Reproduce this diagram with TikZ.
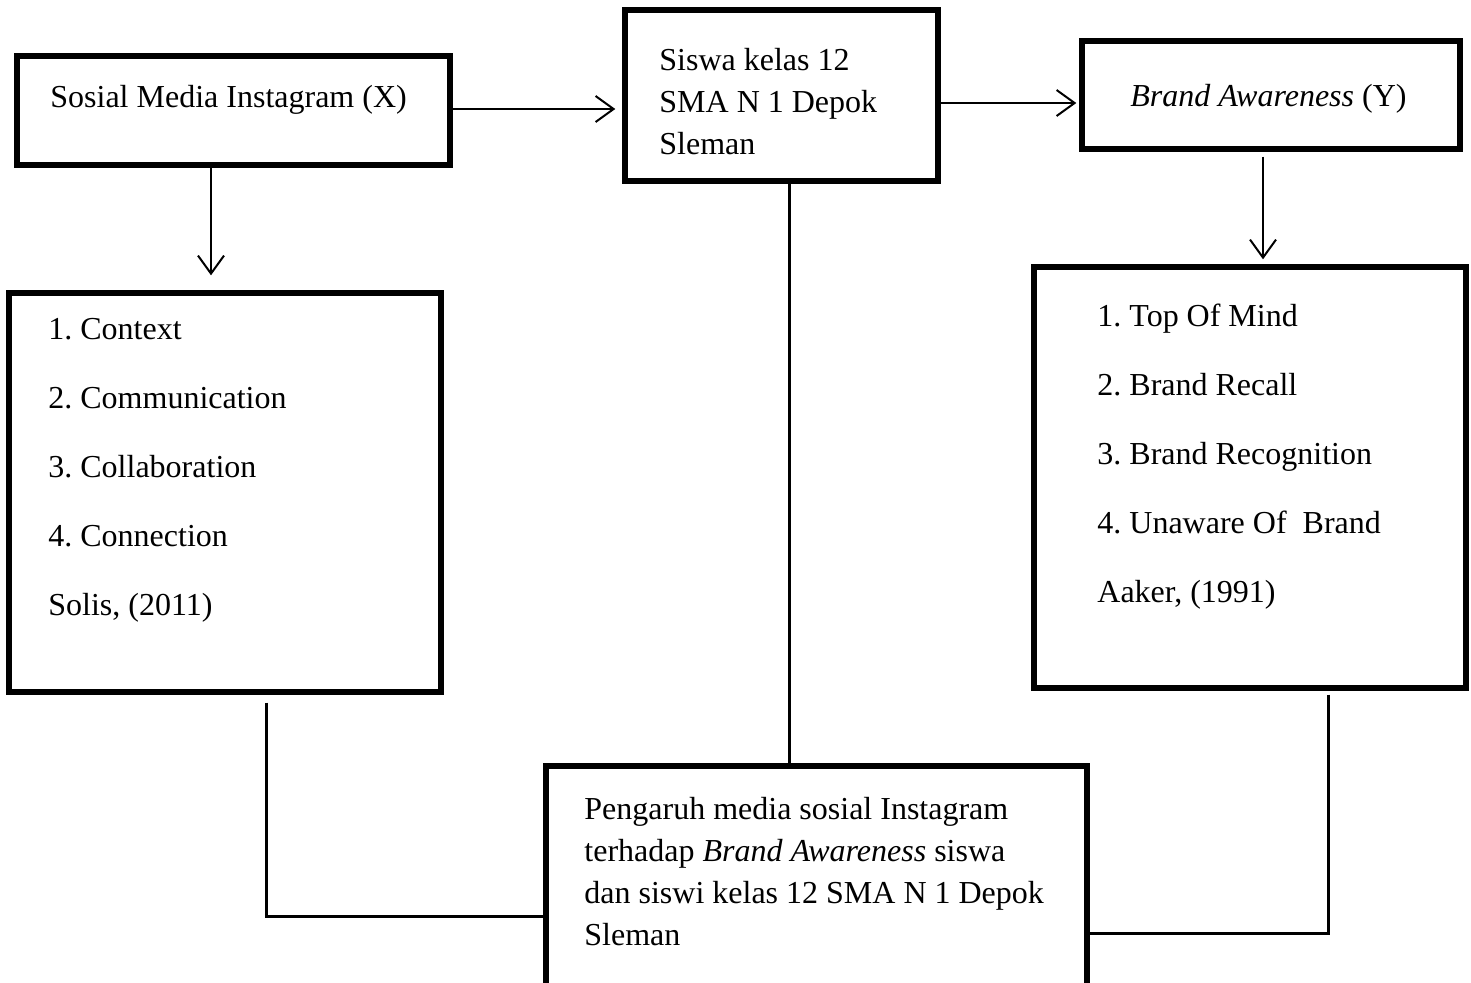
\documentclass[tikz,border=0pt]{standalone}
\usepackage{fontspec}
\setmainfont{Liberation Serif}
\usetikzlibrary{arrows.meta}
\frenchspacing
\begin{document}
\begin{tikzpicture}[x=0.5pt,y=-0.5pt,
  box/.style={draw, line width=2.7pt, rectangle, inner sep=0pt},
  txt/.style={anchor=base west, inner sep=0pt, font=\fontsize{16}{21}\selectfont},
  arr/.style={line width=1pt, -{Straight Barb[length=9pt,width=13pt,line width=1pt]}},
  link/.style={line width=1.5pt}]
\useasboundingbox (0,0) rectangle (1471,982);
\clip (0,0) rectangle (1471,982);
% boxes
\node[box, minimum width={433*0.5pt}, minimum height={109*0.5pt}] (A) at (233.5,110.5) {};
\node[box, minimum width={313*0.5pt}, minimum height={171*0.5pt}] (B) at (781.5,95.5) {};
\node[box, minimum width={378*0.5pt}, minimum height={108*0.5pt}] (C) at (1271,95) {};
\node[box, minimum width={432*0.5pt}, minimum height={399*0.5pt}] (D) at (225,492.5) {};
\node[box, minimum width={432*0.5pt}, minimum height={421*0.5pt}] (E) at (1250,477.5) {};
\node[box, minimum width={541*0.5pt}, minimum height={334*0.5pt}] (F) at (816.5,933) {};
% texts
\node[txt] (tA) at (50,107) {Sosial Media Instagram (X)};
\node[txt] (tB1) at (659,70) {Siswa kelas 12};
\node[txt] (tB2) at (659,112) {SMA N 1 Depok};
\node[txt] (tB3) at (659,154) {Sleman};
\node[txt] (tC) at (1130,106) {\textit{Brand Awareness} (Y)};
\node[txt] (tD1) at (48,339) {1. Context};
\node[txt] (tD2) at (48,408) {2. Communication};
\node[txt] (tD3) at (48,477) {3. Collaboration};
\node[txt] (tD4) at (48,546) {4. Connection};
\node[txt] (tD5) at (48,615) {Solis, (2011)};
\node[txt] (tE1) at (1097,326) {1. Top Of Mind};
\node[txt] (tE2) at (1097,395) {2. Brand Recall};
\node[txt] (tE3) at (1097,464) {3. Brand Recognition};
\node[txt] (tE4) at (1097,533) {4. Unaware Of~ Brand};
\node[txt] (tE5) at (1097,602) {Aaker, (1991)};
\node[txt] (tF1) at (584,819) {Pengaruh media sosial Instagram};
\node[txt] (tF2) at (584,861) {terhadap \textit{Brand Awareness} siswa};
\node[txt] (tF3) at (584,903) {dan siswi kelas 12 SMA N 1 Depok};
\node[txt] (tF4) at (584,945) {Sleman};
% arrows
\draw[arr, shorten <=0pt, shorten >=3.5pt] (A.east |- 0,109) -- (B.west |- 0,109);
\draw[arr, shorten <=0pt, shorten >=1.5pt] (B.east |- 0,103) -- (C.west |- 0,103);
\draw[arr, shorten <=0pt, shorten >=7.5pt] (A.south -| 211,0) -- (D.north -| 211,0);
\draw[arr, shorten <=2.5pt, shorten >=2.5pt] (C.south -| 1263,0) -- (E.north -| 1263,0);
% links
\draw[link] (B.south -| 789,0) -- (F.north -| 789,0);
\draw[link, shorten <=4pt] (D.south -| 266,0) |- (F.west |- 0,916);
\draw[link, shorten <=2pt] (E.south -| 1328,0) |- (F.east |- 0,933);
\end{tikzpicture}
\end{document}
